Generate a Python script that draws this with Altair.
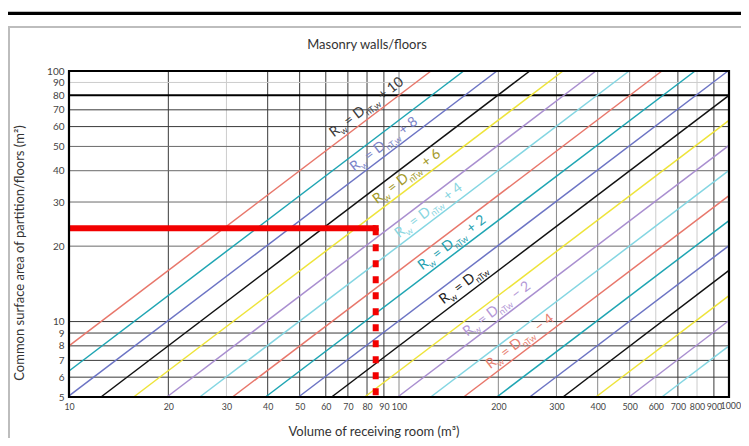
import altair as alt
import pandas as pd

# ---------------- data ----------------
title_text = "Masonry walls/floors"
x_title_text = "Volume of receiving room (m³)"
y_title_text = "Common surface area of partition/floors (m²)"

x_ticks = [10, 20, 30, 40, 50, 60, 70, 80, 90, 100, 200, 300, 400, 500, 600, 700, 800, 900]
x_tick_1000 = [1000]
y_ticks = [5, 6, 7, 8, 9, 10, 20, 30, 40, 50, 60, 70, 80, 90, 100]

# grid lines grouped by how dark they are drawn
x_grid_dark = [20, 40, 50, 60, 70, 80, 90, 700, 900]
x_grid_mid = [100, 200, 300, 400, 500]
x_grid_light = [30, 600, 800]
y_grid_dark = [6, 7, 8, 9, 10, 60, 70]
y_grid_mid = [20, 30, 40, 50]
y_grid_light = [90]
y_grid_bold = [80]

# diagonal lines Rw = DnTw + k  (end points)
line_offset = [10, 9, 8, 7, 6, 5, 4, 3, 2, 1, 0, -1, -2, -3, -4, -5, -6, -7, -8, -9, -10]
line_family = ["red", "teal", "blue", "black", "yellow", "purple", "cyan",
               "red", "teal", "blue", "black", "yellow", "purple", "cyan",
               "red", "teal", "blue", "black", "yellow", "purple", "cyan"]
line_start_v = [10, 10, 10, 12.5, 15.7, 19.8, 24.9, 31.3, 39.4, 49.6, 62.5,
                78.7, 99.1, 124.8, 157, 198, 249, 314, 395, 498, 626]
line_start_s = [8.0, 6.35, 5.05, 5, 5, 5, 5, 5, 5, 5, 5,
                5, 5, 5, 5, 5, 5, 5, 5, 5, 5]
line_end_v = [125, 157, 198, 249, 314, 395, 498, 626, 789, 993, 1000,
              1000, 1000, 1000, 1000, 1000, 1000, 1000, 1000, 1000, 1000]
line_end_s = [100, 100, 100, 100, 100, 100, 100, 100, 100, 100, 80,
              63.5, 50.5, 40.1, 31.8, 25.3, 20.1, 16.0, 12.7, 10.1, 8.0]

# line labels
label_name = ["p10", "p8", "p6", "p4", "p2", "z0", "m2", "m4"]
label_sub = ["nT,w", "nT,w", "nTw", "nTw", "nTw", "nTw", "nTw", "nTw"]
label_tail = ["+ 10", "+ 8", "+ 6", "+ 4", "+ 2", "", "\u2212 2", "\u2212 4"]
label_v = [65, 75, 88, 102.5, 120.6, 140, 165, 194]
label_s = [52, 37.8, 28.1, 20.6, 15.3, 11.2, 8.33, 6.18]

# red reading marker
marker_v = 85
marker_s = 23.6
marker_start_v = 10
marker_bottom_s = 5

# ---------------- styles ----------------
family_colors = {"red": "#e8776b", "teal": "#1fa5b3", "blue": "#6c74c4", "black": "#111111",
                 "yellow": "#eee43a", "purple": "#a98fd0", "cyan": "#84d6e2"}
label_colors = {"p10": "#3a3a3a", "p8": "#7b84c9", "p6": "#a39a2a", "p4": "#8ad6df",
                "p2": "#1f9fb0", "z0": "#222222", "m2": "#b397d6", "m4": "#e8806f"}
FONT = "Lato"
W, H = 660, 326
TICK_COLOR = "#444444"
X_TICK_SIZE = 8.8

xscale = alt.Scale(type="log", domain=[10, 1000], nice=False)
yscale = alt.Scale(type="log", domain=[5, 100], nice=False)
xaxis = alt.Axis(values=x_ticks, format="d", grid=False, domain=False, ticks=False, tickSize=0,
                 labelPadding=5, labelFontSize=X_TICK_SIZE, labelColor=TICK_COLOR, labelFont=FONT,
                 labelOverlap=False, labelFlush=False, labelBound=False)
yaxis = alt.Axis(values=y_ticks, format="d", grid=False, domain=False, ticks=False, tickSize=0,
                 labelPadding=5, labelFontSize=10, labelColor=TICK_COLOR, labelFont=FONT,
                 labelOverlap=False, labelFlush=False, labelBound=False)


def X(field):
    return alt.X(field, type="quantitative", scale=xscale, axis=xaxis, title=None)


def Y(field):
    return alt.Y(field, type="quantitative", scale=yscale, axis=yaxis, title=None)


one = pd.DataFrame({"k": [0]})
layers = []

# grid
for vals, col, sw in [(x_grid_light, "#cccccc", 1), (x_grid_mid, "#8a8a8a", 1), (x_grid_dark, "#3a3a3a", 1)]:
    layers.append(alt.Chart(pd.DataFrame({"V": vals})).mark_rule(color=col, strokeWidth=sw).encode(x=X("V")))
for vals, col, sw in [(y_grid_light, "#cccccc", 1), (y_grid_mid, "#6a6a6a", 1),
                      (y_grid_dark, "#3a3a3a", 1), (y_grid_bold, "#000000", 2)]:
    layers.append(alt.Chart(pd.DataFrame({"S": vals})).mark_rule(color=col, strokeWidth=sw).encode(y=Y("S")))

# diagonal lines
rows = []
for i in range(len(line_offset)):
    rows.append({"line": i, "family": line_family[i], "pt": 0, "V": line_start_v[i], "S": line_start_s[i]})
    rows.append({"line": i, "family": line_family[i], "pt": 1, "V": line_end_v[i], "S": line_end_s[i]})
ldf = pd.DataFrame(rows)
layers.append(
    alt.Chart(ldf).mark_line(strokeWidth=1.5).encode(
        x=X("V"), y=Y("S"),
        stroke=alt.Stroke("family:N", scale=alt.Scale(domain=list(family_colors.keys()),
                                                       range=list(family_colors.values())), legend=None),
        detail="line:N", order="pt:Q")
)

# line labels (rotated, with subscripts)
labdf = pd.DataFrame({"name": label_name, "V": label_v, "S": label_s, "sub": label_sub,
                      "tail": label_tail, "R": ["R"] * 8, "w": ["w"] * 8, "eq": ["= D"] * 8})
ANG = 322.8
fill = alt.Fill("name:N", scale=alt.Scale(domain=list(label_colors.keys()),
                                          range=list(label_colors.values())), legend=None)
for field, dx, dy, fs in [("R", 0, -6, 14), ("w", 8.6, -2, 9), ("eq", 18.4, -6, 14),
                          ("sub", 40.5, -2, 9), ("tail", 61, -6, 14)]:
    layers.append(
        alt.Chart(labdf).mark_text(angle=ANG, align="left", baseline="alphabetic", dx=dx, dy=dy,
                                   fontSize=fs, font=FONT).encode(
            x=X("V"), y=Y("S"), text=alt.Text(field + ":N"), fill=fill)
    )

# last x tick label, pushed to the right edge so it clears "900"
lastdf = pd.DataFrame({"V": x_tick_1000, "S": [5], "t": [str(v) for v in x_tick_1000]})
layers.append(alt.Chart(lastdf).mark_text(align="right", baseline="top", dx=12, dy=5, fontSize=X_TICK_SIZE,
                                          font=FONT, color=TICK_COLOR).encode(
    x=X("V"), y=Y("S"), text="t:N"))

# red marker
mdf = pd.DataFrame({"V0": [marker_start_v], "V": [marker_v], "S": [marker_s], "S0": [marker_bottom_s]})
layers.append(alt.Chart(mdf).mark_rule(color="#f20000", strokeWidth=6).encode(x=X("V0"), x2="V", y=Y("S")))
layers.append(alt.Chart(mdf).mark_rule(color="#f20000", strokeWidth=6, strokeDash=[7, 9]).encode(
    x=X("V"), y=Y("S"), y2="S0"))
layers.append(alt.Chart(mdf).mark_point(shape="square", filled=True, color="#f20000", size=36, opacity=1).encode(
    x=X("V"), y=Y("S")))

# plot frame
layers.append(alt.Chart(one).mark_rect(fillOpacity=0, stroke="#000000", strokeWidth=2.2).encode(
    x=alt.value(0), x2=alt.value(W), y=alt.value(0), y2=alt.value(H)))

# titles
tdf = pd.DataFrame({"t": [title_text], "xt": [x_title_text], "yt": [y_title_text]})
layers.append(alt.Chart(tdf).mark_text(fontSize=13, font=FONT, color="#333333", baseline="middle").encode(
    x=alt.value(298), y=alt.value(-26), text="t:N"))
layers.append(alt.Chart(tdf).mark_text(fontSize=13, font=FONT, color="#333333", baseline="middle").encode(
    x=alt.value(305), y=alt.value(361), text="xt:N"))
layers.append(alt.Chart(tdf).mark_text(fontSize=13, font=FONT, color="#333333", baseline="middle",
                                       angle=270).encode(
    x=alt.value(-49), y=alt.value(182), text="yt:N"))

# page decorations: heavy top rule and grey box
layers.append(alt.Chart(one).mark_rule(color="#000000", strokeWidth=3.3).encode(
    x=alt.value(-61), x2=alt.value(680), y=alt.value(-57.7)))
layers.append(alt.Chart(one).mark_rule(color="#bdbdbd", strokeWidth=2).encode(
    x=alt.value(-61), x2=alt.value(680), y=alt.value(-44)))
layers.append(alt.Chart(one).mark_rule(color="#bdbdbd", strokeWidth=2).encode(
    x=alt.value(-60), y=alt.value(-45), y2=alt.value(375)))

chart = alt.layer(*layers).properties(
    width=W, height=H,
    padding={"left": 61, "top": 63, "right": 12, "bottom": 41},
    autosize=alt.AutoSizeParams(type="none"),
    background="white",
).configure_view(stroke=None)

chart.save("out.html", embed_options={"renderer": "svg", "actions": False})
